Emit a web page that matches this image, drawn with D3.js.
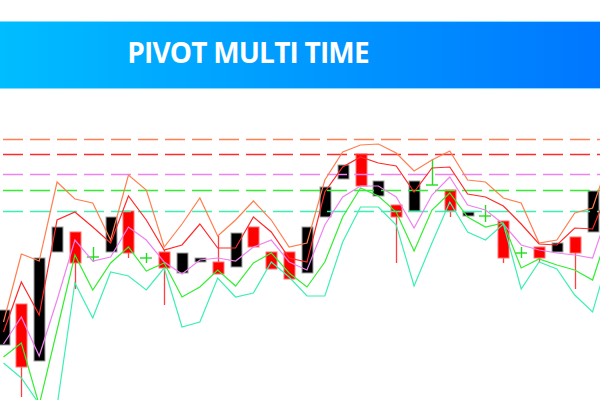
<!DOCTYPE html>
<html><head><meta charset="utf-8">
<script src="https://cdn.jsdelivr.net/npm/d3@7"></script>
<style>html,body{margin:0;padding:0;background:#fff;overflow:hidden}</style>
</head><body><svg id="c" width="600" height="400"></svg>
<script>
const title = "PIVOT MULTI TIME";
// candle values (price units)
const candleOpen  = [55,96,39,148,168,143,148,189,142,148,127,138,138,133,173,148,148,127,183,221,246,204,195,189,215,210,184,184,179,147,153,148,163,168];
const candleClose = [90,33,142,173,137,143,183,147,142,132,147,142,126,167,153,131,121,173,213,235,214,219,183,219,215,189,188,184,142,147,142,157,147,209];
const candleHigh  = [90,96,142,173,168,153,183,189,147,150,147,142,164,167,173,148,148,173,213,235,246,219,195,219,241,210,188,195,179,153,153,157,163,209];
const candleLow   = [55,3,39,148,111,138,148,142,137,95,127,138,126,133,153,131,121,127,183,221,214,204,137,189,215,183,184,178,137,142,138,148,111,168];
// pivot level series (one more point than candles, running off the right edge)
const levelR2 = [78,146,139,218,201,197,160,225,210,153,176,202,164,180,199,180,153,157,220,248,255,256,247,229,240,249,220,218,202,197,157,160,187,192,245];
const levelR1 = [68,118,85,180,188,173,157,204,180,150,155,176,152,152,183,168,142,138,208,233,243,237,234,208,232,233,206,203,194,176,156,155,172,171,215];
const levelPP = [56,83,44,100,160,139,143,173,160,138,126,140,142,139,153,160,138,130,175,203,214,214,203,172,205,223,195,190,176,155,150,147,145,142,195];
const levelS1 = [43,57,-5,70,145,110,137,153,129,137,103,113,130,114,137,147,127,113,138,183,212,204,188,149,190,207,183,173,177,132,141,135,130,120,175];
const levelS2 = [37,22,-4,-6,117,82,128,124,110,132,73,78,122,103,107,138,123,104,104,158,193,193,175,114,157,198,168,160,176,111,138,131,105,88,150];
// higher-timeframe pivot levels (dashed)
const dashedLevels = [261,246,226,210,189];

const colR2 = "#ff7f50", colR1 = "#ff2a2a", colPP = "#ee82ee", colS1 = "#33ee33", colS2 = "#3cf0b0";
const lineColors = [colR2, colR1, colPP, colS1, colS2];
const lineSeries = [levelR2, levelR1, levelPP, levelS1, levelS2];

const svg = d3.select("#c");
const W = 600, H = 400;

// banner
const defs = svg.append("defs");
const g = defs.append("linearGradient").attr("id","bg").attr("x1","0%").attr("x2","100%");
g.append("stop").attr("offset","0%").attr("stop-color","#00bdff");
g.append("stop").attr("offset","100%").attr("stop-color","#0077ff");
svg.append("rect").attr("x",0).attr("y",21).attr("width",W).attr("height",68).attr("fill","url(#bg)");
svg.append("rect").attr("x",0).attr("y",21).attr("width",W).attr("height",1).attr("fill","#7fdcff");
svg.append("rect").attr("x",0).attr("y",88).attr("width",W).attr("height",1).attr("fill","#7fdcff");
svg.append("text").attr("x",248).attr("y",63).attr("text-anchor","middle")
  .attr("fill","#fff").attr("font-family","'Open Sans', sans-serif").attr("font-weight",700)
  .attr("font-size",28).attr("letter-spacing",-0.8).text(title);

const x = d3.scaleLinear().domain([0,33]).range([3.5,592.6]);
const y = d3.scaleLinear().domain([0,270]).range([400,130]);

const chart = svg.append("g");
const idx = d3.range(candleOpen.length);

// wicks
chart.selectAll("line.wick").data(idx.filter(i=>candleOpen[i]!==candleClose[i])).join("line")
  .attr("x1",i=>Math.round(x(i))+0.5).attr("x2",i=>Math.round(x(i))+0.5)
  .attr("y1",i=>y(candleHigh[i])).attr("y2",i=>y(candleLow[i]))
  .attr("stroke",i=>candleClose[i]<candleOpen[i]?"#ff4040":"#333").attr("stroke-width",1.3);

// bodies
chart.selectAll("rect.body").data(idx.filter(i=>candleOpen[i]!==candleClose[i])).join("rect")
  .attr("x",i=>Math.round(x(i))-5).attr("width",11)
  .attr("y",i=>y(Math.max(candleOpen[i],candleClose[i])))
  .attr("height",i=>Math.max(2,Math.abs(y(candleOpen[i])-y(candleClose[i]))))
  .attr("fill",i=>candleClose[i]<candleOpen[i]?"#ff0000":"#000")
  .attr("stroke",i=>candleClose[i]<candleOpen[i]?"#ff7070":"#a0a0a0").attr("stroke-width",1);

// dojis
const dojis = idx.filter(i=>candleOpen[i]===candleClose[i]);
chart.selectAll("line.dv").data(dojis).join("line")
  .attr("x1",i=>Math.round(x(i))+0.5).attr("x2",i=>Math.round(x(i))+0.5)
  .attr("y1",i=>y(candleHigh[i])).attr("y2",i=>y(candleLow[i]))
  .attr("stroke","#22dd22").attr("stroke-width",1.4);
chart.selectAll("line.dh").data(dojis).join("line")
  .attr("x1",i=>Math.round(x(i))-6).attr("x2",i=>Math.round(x(i))+6)
  .attr("y1",i=>y(candleOpen[i])).attr("y2",i=>y(candleOpen[i]))
  .attr("stroke","#22dd22").attr("stroke-width",1.4);

// dashed levels
chart.selectAll("line.lvl").data(dashedLevels).join("line")
  .attr("x1",0).attr("x2",W).attr("y1",d=>Math.round(y(d))+0.5).attr("y2",d=>Math.round(y(d))+0.5)
  .attr("stroke",(d,i)=>lineColors[i]).attr("stroke-width",1.6)
  .attr("stroke-dasharray","20,7").attr("stroke-dashoffset",-3);

// pivot polylines
const line = d3.line().x((d,i)=>x(i)).y(d=>y(d));
chart.selectAll("path.pl").data(lineSeries).join("path")
  .attr("d",line).attr("fill","none")
  .attr("stroke",(d,i)=>lineColors[i]).attr("stroke-width",1.2);
</script></body></html>
